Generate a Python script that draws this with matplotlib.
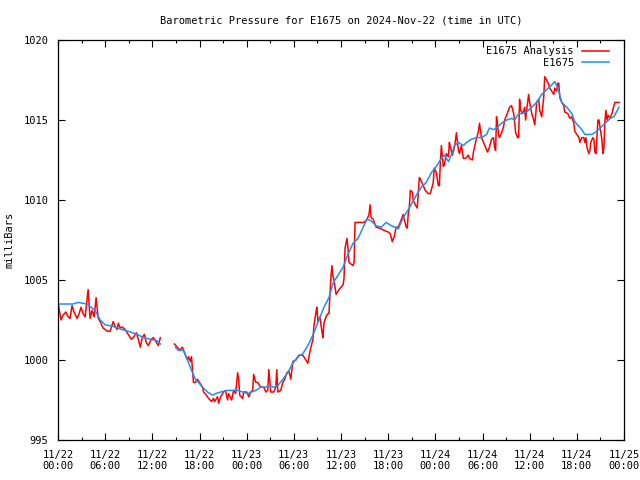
import matplotlib
matplotlib.use("Agg")
import matplotlib.pyplot as plt
import matplotlib.dates as mdates
import numpy as np

plt.rc('font', family='DejaVu Sans Mono')
plt.rc('font', size=7.5)

start = np.datetime64('2024-11-22T00:00')
end = np.datetime64('2024-11-25T00:00')

# E1675 Analysis (hours after start, mbar); nan marks the data gap
analysis_hours = [
    0.0, 0.38, 0.64, 1.02, 1.28, 1.53, 1.79, 2.04, 2.43, 2.68, 2.94, 3.19, 3.45,
    3.83, 4.09, 4.34, 4.60, 4.85, 5.11, 5.36, 5.74, 6.26, 6.64, 7.02, 7.28, 7.53,
    7.66, 7.92, 8.17, 8.55, 8.94, 9.32, 9.57, 9.96, 10.21, 10.47, 10.72, 10.98,
    11.23, 11.49, 11.87, 12.13, 12.51, 12.77, 13.02, 13.8,
    14.81, 15.19, 15.45, 15.83, 15.96, 16.21, 16.47, 16.60, 16.85, 16.98, 17.23,
    17.49, 17.74, 18.0, 18.38, 18.51, 18.89, 19.15, 19.53, 19.79, 19.91, 20.30,
    20.43, 20.68, 21.06, 21.32, 21.57, 21.70, 22.09, 22.34, 22.60, 22.85, 22.98,
    23.11, 23.49, 23.62, 24.0, 24.26, 24.51, 24.77, 24.89, 25.15, 25.40, 25.79,
    26.17, 26.43, 26.68, 26.81, 27.06, 27.45, 27.70, 27.83, 27.96, 28.34, 28.60,
    28.85, 29.11, 29.36, 29.62, 29.87, 30.26, 30.64, 31.15, 31.40, 31.79, 32.04,
    32.43, 32.55, 32.81, 32.94, 33.06, 33.32, 33.57, 33.70, 33.83, 34.09, 34.34,
    34.47, 34.60, 34.72, 34.85, 34.98, 35.11, 35.36, 35.74, 36.26, 36.38, 36.51,
    36.77, 36.89, 37.02, 37.53, 37.66, 37.79, 38.30, 38.94, 39.32, 39.57, 39.70,
    39.83, 40.09, 40.47, 40.85, 41.49, 42.0, 42.26, 42.51, 42.77, 43.02, 43.28,
    43.53, 43.92, 44.04, 44.30, 44.43, 44.55, 44.68, 44.81, 45.06, 45.19, 45.45,
    45.70, 45.96, 46.09, 46.47, 46.72, 47.11, 47.36, 47.74, 47.87, 48.13, 48.38,
    48.51, 48.64, 48.77, 49.02, 49.15, 49.40, 49.66, 49.79, 49.91, 50.17, 50.43,
    50.68, 50.94, 51.06, 51.32, 51.57, 51.83, 52.21, 52.34, 52.72, 52.85, 53.11,
    53.49, 53.62, 53.87, 54.13, 54.38, 54.64, 54.89, 55.15, 55.40, 55.53, 55.66,
    55.79, 55.91, 56.04, 56.17, 56.43, 56.68, 56.81, 57.06, 57.45, 57.70, 57.96,
    58.09, 58.21, 58.47, 58.60, 58.72, 58.85, 59.11, 59.36, 59.49, 59.62, 59.87,
    60.0, 60.26, 60.51, 60.64, 60.77, 60.89, 61.15, 61.28, 61.53, 61.79, 61.92,
    62.17, 62.43, 62.55, 62.81, 63.06, 63.19, 63.45, 63.58, 63.70, 63.83, 64.09,
    64.34, 64.47, 64.85, 65.11, 65.36, 65.62, 65.74, 66.0, 66.26, 66.38, 66.64,
    66.89, 67.02, 67.15, 67.28, 67.53, 67.66, 67.79, 68.04, 68.17, 68.30, 68.43,
    68.68, 68.81, 69.19, 69.32, 69.45, 69.57, 69.70, 69.83, 69.96, 70.21, 70.47,
    70.72, 70.85, 71.11, 71.36,
]
analysis_mb = [
    1003.6, 1002.5, 1002.8, 1003.0, 1002.7, 1002.6, 1003.4, 1003.0, 1002.6, 1002.9,
    1003.3, 1002.9, 1002.7, 1004.4, 1002.6, 1003.1, 1002.7, 1003.9, 1002.6, 1002.4,
    1002.0, 1001.8, 1001.8, 1002.4, 1002.1, 1001.9, 1002.3, 1002.0, 1002.06, 1001.9,
    1001.6, 1001.3, 1001.4, 1001.7, 1001.3, 1000.8, 1001.4, 1001.6, 1001.1, 1000.9,
    1001.3, 1001.4, 1001.1, 1000.9, 1001.4, np.nan,
    1001.0, 1000.8, 1000.6, 1000.8, 1000.6, 1000.3, 1000.0, 1000.2, 999.9, 1000.2,
    998.6, 998.6, 998.8, 998.6, 998.3, 998.0, 997.8, 997.6, 997.4, 997.6,
    997.4, 997.7, 997.3, 997.7, 998.0, 998.1, 997.5, 997.9, 997.5, 998.1,
    997.9, 999.2, 998.8, 997.8, 997.6, 998.0, 998.0, 997.7, 998.0, 998.1,
    999.1, 998.6, 998.6, 998.3, 998.3, 998.0, 998.1, 999.4, 998.0, 998.0,
    998.3, 999.4, 998.0, 998.1, 998.6, 998.8, 999.2, 999.3, 998.8, 999.9,
    1000.0, 1000.3, 1000.3, 1000.1, 999.8, 1000.5, 1001.3, 1002.1, 1003.0, 1003.3,
    1002.4, 1002.7, 1001.8, 1001.4, 1002.3, 1002.7, 1002.9, 1002.9, 1004.1, 1005.2,
    1005.9, 1005.2, 1005.0, 1004.1, 1004.4, 1004.7, 1005.1, 1007.0, 1007.6, 1007.0,
    1006.1, 1005.9, 1006.1, 1008.6, 1008.6, 1008.6, 1008.8, 1009.1, 1009.7, 1008.9,
    1008.8, 1008.3, 1008.25, 1008.1, 1008.0, 1007.9, 1007.4, 1007.7, 1008.3, 1008.3,
    1008.6, 1009.1, 1008.8, 1008.3, 1008.25, 1009.1, 1009.5, 1010.6, 1010.5, 1010.0,
    1009.7, 1009.5, 1011.4, 1011.3, 1010.9, 1010.6, 1010.4, 1010.4, 1011.1, 1012.0,
    1011.7, 1010.9, 1010.9, 1012.3, 1013.4, 1012.1, 1012.2, 1012.9, 1012.7, 1013.6,
    1013.3, 1012.8, 1013.3, 1014.2, 1013.1, 1012.9, 1013.4, 1012.6, 1012.6, 1012.8,
    1012.6, 1012.5, 1013.0, 1013.6, 1014.3, 1014.8, 1013.9, 1013.6, 1013.3, 1013.0,
    1013.3, 1013.8, 1013.9, 1013.3, 1013.1, 1015.2, 1014.7, 1014.1, 1013.9, 1014.2,
    1014.6, 1015.0, 1015.3, 1015.8, 1015.9, 1015.4, 1014.9, 1014.2, 1013.9, 1013.9,
    1016.3, 1015.6, 1015.4, 1015.8, 1015.0, 1015.6, 1016.6, 1016.1, 1015.4, 1015.0,
    1014.7, 1015.3, 1016.1, 1016.3, 1015.6, 1015.2, 1016.4, 1017.7, 1017.5, 1017.2,
    1017.0, 1016.8, 1016.6, 1017.0, 1016.8, 1017.3, 1017.3, 1016.4, 1016.1, 1015.9,
    1015.5, 1015.4, 1015.1, 1015.2, 1014.8, 1014.3, 1014.1, 1013.9, 1013.6, 1013.9,
    1013.9, 1013.6, 1013.9, 1013.3, 1012.9, 1013.1, 1013.6, 1013.9, 1013.8, 1013.0,
    1012.9, 1015.0, 1015.0, 1013.8, 1012.9, 1013.3, 1014.9, 1015.6, 1015.0, 1015.3,
    1015.1, 1015.4, 1015.9, 1016.1, 1016.1, 1016.1,
]

# E1675 observations
obs_hours = [
    0.0, 1.91, 2.55, 3.70, 4.72, 5.36, 6.0, 7.02, 8.17, 8.94, 10.09, 10.85, 11.74,
    12.64, 13.02, 13.8,
    14.94, 15.32, 15.96, 16.47, 17.11, 17.49, 17.87, 18.38, 19.02, 19.66, 20.04,
    20.68, 21.57, 22.21, 22.85, 23.49, 24.13, 24.64, 25.15, 25.79, 26.43, 26.81,
    27.45, 27.96, 28.60, 29.23, 29.87, 30.51, 31.15, 31.79, 32.55, 33.19, 33.83,
    34.47, 34.98, 35.62, 36.26, 36.89, 37.53, 38.17, 38.81, 39.32, 39.83, 40.47,
    41.11, 41.74, 42.38, 43.28, 43.92, 44.68, 45.58, 46.21, 46.85, 47.49, 48.13,
    48.77, 49.15, 49.66, 50.04, 50.43, 50.94, 51.57, 51.96, 52.60, 53.23, 53.87,
    54.51, 54.89, 55.40, 55.79, 56.43, 57.06, 57.70, 58.09, 58.60, 58.98, 59.62,
    60.26, 60.89, 61.53, 62.17, 62.81, 63.19, 63.58, 64.09, 64.72, 65.36, 65.74,
    66.26, 66.64, 67.02, 67.91, 68.55, 69.19, 69.83, 70.21, 70.72, 71.36,
]
obs_mb = [
    1003.5, 1003.5, 1003.6, 1003.5, 1003.1, 1002.5, 1002.2, 1002.1, 1001.9, 1001.8,
    1001.6, 1001.4, 1001.3, 1001.2, 1001.0, np.nan,
    1000.8, 1000.6, 1000.6, 1000.0, 999.2, 998.8, 998.6, 998.3, 998.0, 997.8,
    997.9, 998.0, 998.1, 998.1, 998.1, 998.0, 997.9, 998.0, 998.1, 998.3,
    998.3, 998.4, 998.3, 998.4, 998.8, 999.2, 999.8, 1000.2, 1000.4, 1000.9,
    1001.7, 1002.5, 1003.3, 1003.9, 1004.8, 1005.3, 1005.8, 1006.6, 1007.3, 1007.6,
    1008.3, 1008.8, 1008.7, 1008.4, 1008.3, 1008.6, 1008.4, 1008.2, 1008.9, 1009.5,
    1010.3, 1010.8, 1011.1, 1011.7, 1012.1, 1012.6, 1012.8, 1012.4, 1012.8, 1013.4,
    1013.6, 1013.4, 1013.6, 1013.8, 1013.9, 1013.9, 1014.1, 1014.5, 1014.4, 1014.5,
    1014.8, 1015.0, 1015.1, 1015.0, 1015.4, 1015.4, 1015.5, 1015.8, 1016.1, 1016.6,
    1016.9, 1017.2, 1017.4, 1017.0, 1016.1, 1015.8, 1015.4, 1014.9, 1014.6, 1014.4,
    1014.1, 1014.1, 1014.3, 1014.6, 1014.9, 1015.1, 1015.2, 1015.8,
]


def to_time(hours):
    minutes = np.round(np.array(hours) * 60).astype('timedelta64[m]')
    return start + minutes


fig = plt.figure(figsize=(6.4, 4.8), dpi=100)
ax = fig.add_axes([58 / 640, 40 / 480, 566 / 640, 400 / 480])

ax.plot(to_time(analysis_hours), analysis_mb, color='#ff0000', lw=1.1,
        label='E1675 Analysis')
ax.plot(to_time(obs_hours), obs_mb, color='#1e8fff', lw=1.1, label='E1675')

ax.set_xlim(start, end)
ax.set_ylim(995, 1020)
ax.set_yticks(np.arange(995, 1021, 5))
ax.xaxis.set_major_locator(mdates.HourLocator(byhour=range(0, 24, 6)))
ax.xaxis.set_minor_locator(mdates.HourLocator(byhour=range(0, 24, 3)))
ax.xaxis.set_major_formatter(mdates.DateFormatter('%m/%d\n%H:%M'))

ax.tick_params(which='both', direction='in', top=True, right=True,
               width=0.8, labelsize=7.5)
ax.tick_params(which='major', length=5, pad=7)
ax.tick_params(which='minor', length=2.5)
for s in ax.spines.values():
    s.set_linewidth(0.9)

ax.set_title('Barometric Pressure for E1675 on 2024-Nov-22 (time in UTC)',
             fontsize=7.5, pad=12)
ax.set_ylabel('milliBars', labelpad=6)
ax.legend(loc='upper right', bbox_to_anchor=(0.985, 1.0), frameon=False,
          markerfirst=False, handlelength=2.6, borderaxespad=0.2,
          labelspacing=0.15, fontsize=7.5)

plt.savefig('out.png', dpi=100)
